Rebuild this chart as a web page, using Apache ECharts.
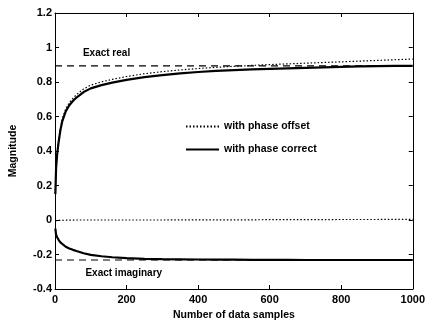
<!DOCTYPE html>
<html><head><meta charset="utf-8">
<script src="https://cdn.jsdelivr.net/npm/echarts@6/dist/echarts.min.js"></script>
<style>html,body{margin:0;padding:0;background:#fff}#c{width:428px;height:326px}</style>
</head><body><div id="c"></div>
<script>
var samples = [1, 3, 6, 10, 15, 20, 30, 40, 50, 60, 80, 100, 130, 160, 200, 250, 300, 350, 400, 450, 500, 550, 600, 650, 700, 750, 800, 850, 900, 950, 1000];
var realCorrect = [0.15, 0.30, 0.38, 0.45, 0.52, 0.57, 0.63, 0.665, 0.69, 0.71, 0.742, 0.763, 0.782, 0.796, 0.812, 0.828, 0.840, 0.850, 0.858, 0.864, 0.869, 0.873, 0.876, 0.879, 0.882, 0.885, 0.888, 0.891, 0.892, 0.893, 0.893];
var realOffset = [0.15, 0.31, 0.39, 0.46, 0.53, 0.585, 0.645, 0.68, 0.705, 0.727, 0.76, 0.782, 0.801, 0.815, 0.832, 0.848, 0.860, 0.870, 0.878, 0.885, 0.891, 0.896, 0.901, 0.905, 0.909, 0.913, 0.917, 0.921, 0.925, 0.929, 0.933];
var imagCorrect = [-0.05, -0.085, -0.10, -0.115, -0.13, -0.14, -0.155, -0.165, -0.173, -0.18, -0.193, -0.202, -0.210, -0.216, -0.221, -0.225, -0.227, -0.228, -0.229, -0.230, -0.230, -0.231, -0.231, -0.231, -0.232, -0.232, -0.232, -0.232, -0.232, -0.232, -0.232];
var imagOffset = [-0.004, -0.003, -0.003, -0.002, -0.002, -0.002, -0.001, -0.001, -0.001, 0, 0, 0, 0, 0, 0, 0, 0, 0.001, 0.001, 0.001, 0.001, 0.001, 0.002, 0.002, 0.002, 0.002, 0.003, 0.003, 0.003, 0.004, 0.004];
var exactReal = 0.894;
var exactImag = -0.232;
var xTicks = {min: 0, max: 1000, interval: 200};
var yTicks = {min: -0.4, max: 1.2, interval: 0.2};
var labels = {real: 'Exact real', imag: 'Exact imaginary', offset: 'with phase offset', correct: 'with phase correct', xName: 'Number of data samples', yName: 'Magnitude'};
var labelSpots = {real: [78, 0.965], imag: [85, -0.307]};

function pairs(xs, ys){ return xs.map(function(x,i){ return [x, ys[i]]; }); }
var font = 'Liberation Sans, Arial, sans-serif';
var chart = echarts.init(document.getElementById('c'), null, {renderer:'canvas'});
var axisCommon = {
  axisLine:{show:true, onZero:false, lineStyle:{color:'#000', width:1}},
  axisTick:{show:true, inside:true, length:4, lineStyle:{color:'#000'}},
  splitLine:{show:false}
};
var txt = {fontFamily:font, fontSize:10.5, color:'#000', fontWeight:'bold'};
chart.setOption({
  animation:false,
  backgroundColor:'#fff',
  grid:{left:53, right:11, top:13, bottom:34, show:false},
  legend:{
    left:180, top:116, orient:'vertical', itemWidth:33, itemHeight:10, itemGap:12,
    data:[labels.offset, labels.correct],
    itemStyle:{opacity:0},
    textStyle:txt
  },
  xAxis:[
    Object.assign({type:'value', position:'bottom', min:xTicks.min, max:xTicks.max, interval:xTicks.interval,
      name:labels.xName, nameLocation:'middle', nameGap:21, nameTextStyle:txt,
      axisLabel:{fontFamily:font, fontSize:11, color:'#000', fontWeight:'bold', margin:5,
        formatter:function(v){ return String(v); }}}, axisCommon),
    Object.assign({type:'value', position:'top', min:xTicks.min, max:xTicks.max, interval:xTicks.interval,
      axisLabel:{show:false}}, axisCommon)
  ],
  yAxis:[
    Object.assign({type:'value', position:'left', min:yTicks.min, max:yTicks.max, interval:yTicks.interval,
      name:labels.yName, nameLocation:'middle', nameGap:36, nameTextStyle:txt,
      axisLabel:{fontFamily:font, fontSize:11, color:'#000', fontWeight:'bold', margin:3,
        formatter:function(v){ return String(Math.round(v*10)/10); }}}, axisCommon),
    Object.assign({type:'value', position:'right', min:yTicks.min, max:yTicks.max, interval:yTicks.interval,
      axisLabel:{show:false}}, axisCommon)
  ],
  series:[
    {name:labels.offset, type:'line', data:pairs(samples, realOffset), showSymbol:false, symbol:'none',
      itemStyle:{color:'#000'}, lineStyle:{color:'#000', width:1.2, type:[1.5,2]}},
    {name:labels.correct, type:'line', data:pairs(samples, realCorrect), showSymbol:false, symbol:'none',
      itemStyle:{color:'#000'}, lineStyle:{color:'#000', width:2.2}},
    {name:labels.offset, type:'line', data:pairs(samples, imagOffset), showSymbol:false, symbol:'none',
      itemStyle:{color:'#000'}, lineStyle:{color:'#000', width:1.2, type:[1.5,2]}},
    {name:labels.correct, type:'line', data:pairs(samples, imagCorrect), showSymbol:false, symbol:'none',
      itemStyle:{color:'#000'}, lineStyle:{color:'#000', width:2.2}},
    {name:'exactReal', type:'line', data:[[xTicks.min, exactReal],[xTicks.max, exactReal]], showSymbol:false, symbol:'none',
      itemStyle:{color:'#000'}, lineStyle:{color:'#000', width:1.2, type:[7,5]}},
    {name:'exactImag', type:'line', data:[[xTicks.min, exactImag],[xTicks.max, exactImag]], showSymbol:false, symbol:'none',
      itemStyle:{color:'#000'}, lineStyle:{color:'#000', width:1.2, type:[7,5]}},
    {name:'annotations', type:'scatter', symbolSize:0, silent:true,
      itemStyle:{opacity:1, color:'#000'},
      data:[
        {value:labelSpots.real, label:{formatter:labels.real}},
        {value:labelSpots.imag, label:{formatter:labels.imag}}
      ],
      label:Object.assign({show:true, position:'right', distance:0, opacity:1}, txt, {fontSize:10})}
  ]
});
</script></body></html>
